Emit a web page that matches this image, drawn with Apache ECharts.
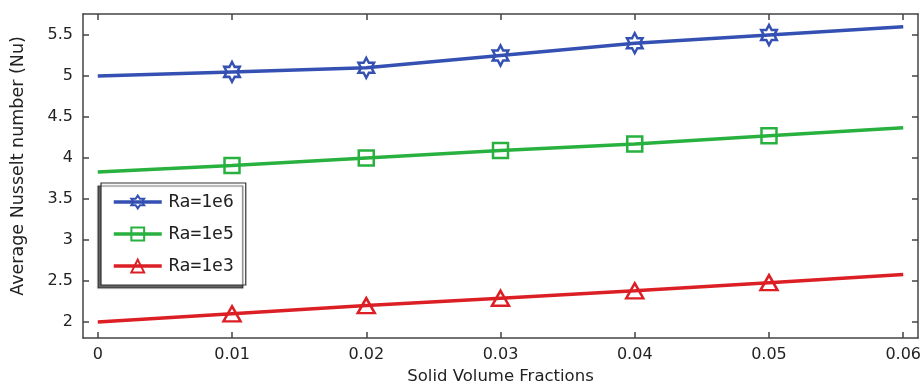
<!DOCTYPE html>
<html><head><meta charset="utf-8">
<script src="https://cdn.jsdelivr.net/npm/echarts@6/dist/echarts.min.js"></script>
<style>html,body{margin:0;padding:0;background:#fff}#c{width:924px;height:385px}</style>
</head><body><div id="c"></div>
<script>
const xValues = [0, 0.01, 0.02, 0.03, 0.04, 0.05, 0.06];
const xTickLabels = ['0', '0.01', '0.02', '0.03', '0.04', '0.05', '0.06'];
const yTicks = [2, 2.5, 3, 3.5, 4, 4.5, 5, 5.5];
const yTickLabels = ['2', '2.5', '3', '3.5', '4', '4.5', '5', '5.5'];
const seriesNames = ['Ra=1e6', 'Ra=1e5', 'Ra=1e3'];
const ra1e6 = [5.0, 5.05, 5.1, 5.25, 5.4, 5.5, 5.6];
const ra1e5 = [3.83, 3.91, 4.0, 4.09, 4.17, 4.27, 4.37];
const ra1e3 = [2.0, 2.1, 2.2, 2.29, 2.38, 2.48, 2.58];

const colors = ['#3550b3', '#28b13f', '#dc1f24'];
const hexagram = 'path://M0,-10 L2.89,-5 L8.66,-5 L5.77,0 L8.66,5 L2.89,5 L0,10 L-2.89,5 L-8.66,5 L-5.77,0 L-8.66,-5 L-2.89,-5 Z';
const symbols = [hexagram, 'rect', 'triangle'];
const sizes = [[18, 20], 15, [17, 15]];
const allData = [ra1e6, ra1e5, ra1e3];

function pts(vals) {
  return vals.map((v, i) => {
    const item = { value: [xValues[i], v] };
    if (i === 0 || i === vals.length - 1) item.symbol = 'none';
    return item;
  });
}

const font = 'DejaVu Sans';
const xMin = -0.0011, xMax = 0.0611, yMin = 1.805, yMax = 5.756;
const axisLine = { show: true, onZero: false, lineStyle: { color: '#444', width: 1.5 } };
const tickStyle = { color: '#444', width: 1.5 };

const chart = echarts.init(document.getElementById('c'), null, { renderer: 'canvas' });
chart.setOption({
  animation: false,
  backgroundColor: '#fff',
  grid: { left: 83, right: 6, top: 14, bottom: 47, containLabel: false, outerBoundsMode: 'none' },
  legend: {
    left: 101, top: 183,
    orient: 'vertical',
    itemWidth: 48, itemHeight: 16, itemGap: 14,
    padding: [10, 12, 10, 11],
    backgroundColor: '#fff',
    borderColor: '#333', borderWidth: 1.2,
    shadowColor: 'rgba(0,0,0,0.6)', shadowOffsetX: -3, shadowOffsetY: 3, shadowBlur: 1,
    lineStyle: { width: 3.5 },
    textStyle: { fontFamily: 'DejaVu Sans Mono', fontSize: 18, color: '#222', padding: [0, 0, 0, 2] },
    data: seriesNames
  },
  xAxis: [{
    type: 'value', min: xMin, max: xMax, position: 'bottom',
    name: 'Solid Volume Fractions', nameLocation: 'middle', nameGap: 29,
    nameTextStyle: { fontFamily: font, fontSize: 16.5, color: '#222' },
    axisLine: axisLine,
    axisTick: { show: true, inside: true, length: 6, customValues: xValues, lineStyle: tickStyle },
    axisLabel: { fontFamily: font, fontSize: 16, color: '#222', margin: 9, customValues: xValues,
      formatter: v => { const i = xValues.findIndex(x => Math.abs(x - v) < 1e-9); return i >= 0 ? xTickLabels[i] : ''; } },
    splitLine: { show: false }
  }, {
    type: 'value', min: xMin, max: xMax, position: 'top',
    axisLine: axisLine,
    axisTick: { show: true, inside: true, length: 6, customValues: xValues, lineStyle: tickStyle },
    axisLabel: { show: false },
    splitLine: { show: false }
  }],
  yAxis: [{
    type: 'value', min: yMin, max: yMax, position: 'left',
    name: 'Average Nusselt number (Nu)', nameLocation: 'middle', nameGap: 56, nameRotate: 90,
    nameTextStyle: { fontFamily: font, fontSize: 17.5, color: '#222', padding: [0, 0, 0, 20] },
    axisLine: axisLine,
    axisTick: { show: true, inside: true, length: 6, customValues: yTicks, lineStyle: tickStyle },
    axisLabel: { fontFamily: font, fontSize: 16, color: '#222', margin: 10, customValues: yTicks,
      formatter: v => { const i = yTicks.findIndex(y => Math.abs(y - v) < 1e-9); return i >= 0 ? yTickLabels[i] : ''; } },
    splitLine: { show: false }
  }, {
    type: 'value', min: yMin, max: yMax, position: 'right',
    axisLine: axisLine,
    axisTick: { show: true, inside: true, length: 6, customValues: yTicks, lineStyle: tickStyle },
    axisLabel: { show: false },
    splitLine: { show: false }
  }],
  series: seriesNames.map((n, k) => ({
    name: n, type: 'line', xAxisIndex: 0, yAxisIndex: 0,
    data: pts(allData[k]),
    symbol: symbols[k], symbolSize: sizes[k], symbolKeepAspect: true,
    showAllSymbol: true,
    lineStyle: { color: colors[k], width: 3.5 },
    itemStyle: { color: 'rgba(255,255,255,0)', borderColor: colors[k], borderWidth: 2.5 },
    z: 3 - k
  }))
});
</script></body></html>
